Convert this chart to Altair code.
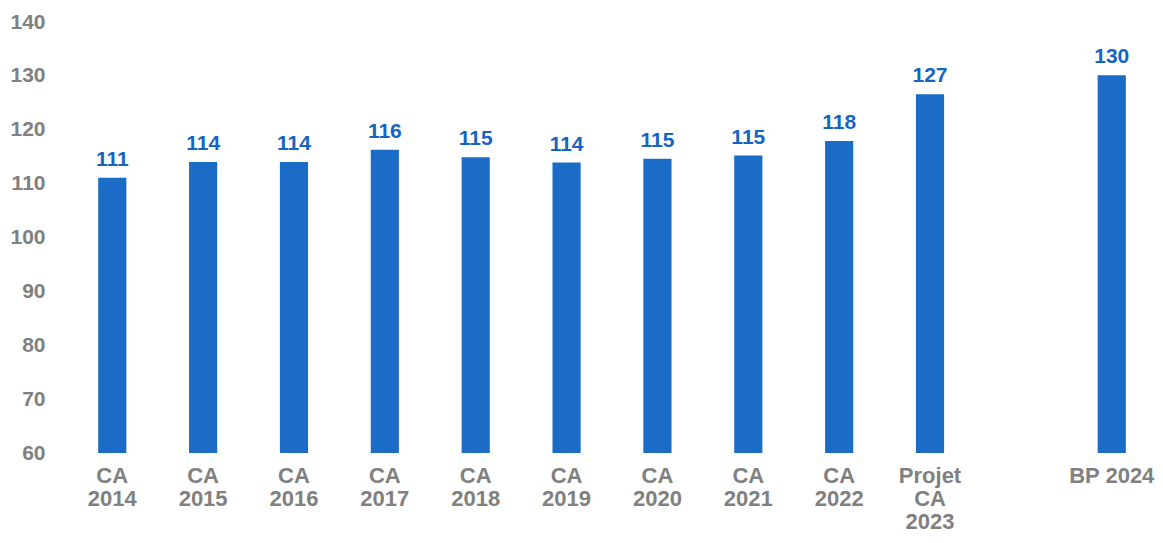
import altair as alt
import pandas as pd

categories = ["CA|2014", "CA|2015", "CA|2016", "CA|2017", "CA|2018", "CA|2019",
              "CA|2020", "CA|2021", "CA|2022", "Projet|CA|2023", "BP 2024"]
values = [111.1, 114.0, 114.0, 116.3, 114.9, 113.9, 114.6, 115.2, 117.9, 126.6, 130.1]
y_ticks = [60, 70, 80, 90, 100, 110, 120, 130, 140]

# axis order, with an empty slot before the budget bar
x_domain = categories[:10] + ["gap"] + categories[10:]

df = pd.DataFrame({"cat": categories, "val": values})

bar_color = "#1b6cc6"
label_color = "#1565c0"
gray = "#808080"
font = "Liberation Sans"

x = alt.X("cat:N", sort=x_domain,
          scale=alt.Scale(domain=x_domain, paddingInner=0.69, paddingOuter=0.2),
          axis=alt.Axis(title=None, labelAngle=0, domain=False, ticks=False,
                        labelExpr="datum.label == 'gap' ? '' : split(datum.label, '|')",
                        labelFont=font, labelFontSize=22, labelFontWeight="bold",
                        labelColor=gray, labelLineHeight=23, labelPadding=12,
                        labelBaseline="top", labelOverlap=False))
y = alt.Y("val:Q",
          scale=alt.Scale(domain=[60, 140], nice=False, zero=False),
          axis=alt.Axis(title=None, values=y_ticks, grid=False, domain=False, ticks=False,
                        labelFont=font, labelFontSize=21, labelFontWeight="bold",
                        labelColor=gray, labelPadding=35))

bars = alt.Chart(df).mark_bar(color=bar_color).encode(x=x, y=y, y2=alt.datum(60))
text = alt.Chart(df).mark_text(color=label_color, font=font, fontSize=21,
                               fontWeight="bold", baseline="bottom", dy=-8).encode(
    x=x, y=y, text=alt.Text("val:Q", format=".0f"))

chart = alt.layer(bars, text).properties(
    width=1064, height=431,
    autosize=alt.AutoSizeParams(type="none"),
    padding={"left": 72, "top": 14, "right": 11, "bottom": 82},
    background="white",
).configure_view(stroke=None)

chart.save("out.html", embed_options={"renderer": "svg", "actions": False})
